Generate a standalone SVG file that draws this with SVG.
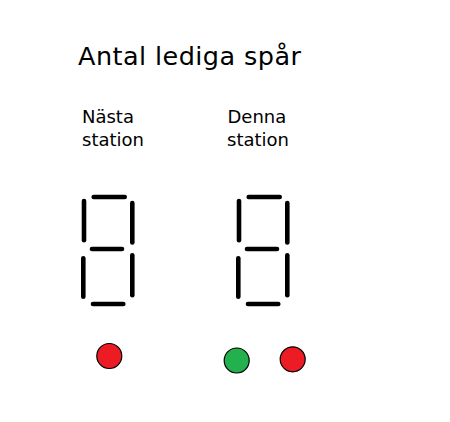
<svg xmlns="http://www.w3.org/2000/svg" width="450" height="422" viewBox="0 0 450 422">
<style>
text{font-family:"DejaVu Sans","Verdana",sans-serif;fill:#000}
.title{font-size:25.5px}
.lbl{font-size:18px}
.seg{stroke:#000;stroke-width:4.6;stroke-linecap:round;fill:none}
.red{fill:#ED1C24;stroke:#000;stroke-width:1.2}
.green{fill:#22B14C;stroke:#000;stroke-width:1.2}
</style>
<defs>
<g id="digit">
<line class="seg" x1="93.7" y1="197" x2="124.7" y2="197"/>
<line class="seg" x1="84" y1="201" x2="84" y2="240.3"/>
<line class="seg" x1="132.3" y1="203" x2="132.3" y2="242.5"/>
<line class="seg" x1="92" y1="249" x2="122" y2="249"/>
<line class="seg" x1="83.3" y1="258.3" x2="83.3" y2="296.7"/>
<line class="seg" x1="132.3" y1="255.3" x2="132.3" y2="295.3"/>
<line class="seg" x1="93" y1="304" x2="123.3" y2="304"/>
</g>
</defs>
<rect width="450" height="422" fill="#fff"/>
<g id="title"><text class="title" x="78" y="65" textLength="223" lengthAdjust="spacing">Antal lediga spår</text></g>
<g id="next-station">
<text class="lbl" x="82" y="122.7">Nästa</text>
<text class="lbl" x="82" y="145.7">station</text>
<use href="#digit"/>
<circle class="red" cx="109.3" cy="356" r="12.5"/>
</g>
<g id="this-station">
<text class="lbl" x="227.5" y="122.7">Denna</text>
<text class="lbl" x="227" y="145.7">station</text>
<use href="#digit" transform="translate(155,0)"/>
<circle class="green" cx="236.7" cy="360.5" r="12.5"/>
<circle class="red" cx="292.7" cy="359.3" r="12.5"/>
</g>
<g id="connectors"/>
</svg>
